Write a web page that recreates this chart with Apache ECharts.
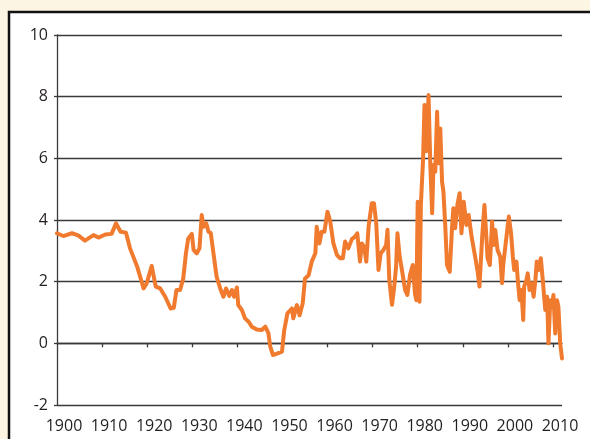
<!DOCTYPE html>
<html>
<head>
<meta charset="utf-8">
<script src="https://cdn.jsdelivr.net/npm/echarts@6/dist/echarts.min.js"></script>
<style>
  html, body { margin: 0; padding: 0; background: #fdf5e3; }
  #chart { width: 590px; height: 439px; }
</style>
</head>
<body>
<div id="chart"></div>
<script>
// years (fractional) and values
const years = [
  1900.0, 1901.4, 1903.3, 1904.7, 1906.2, 1908.1, 1909.2, 1910.7, 1912.1, 1913.1,
  1914.1, 1915.3, 1916.2, 1917.8, 1919.2, 1919.9, 1921.0, 1921.9, 1922.9, 1924.0,
  1925.2, 1925.9, 1926.5, 1927.3, 1928.0, 1928.6, 1929.1, 1929.9, 1930.3, 1931.0,
  1931.6, 1932.1, 1932.5, 1933.1, 1933.6, 1934.1, 1934.7, 1935.4, 1936.2, 1936.9,
  1937.5, 1938.2, 1938.8, 1939.3, 1939.9, 1940.2, 1941.0, 1941.7, 1942.5, 1943.2,
  1944.3, 1945.4, 1946.2, 1946.9, 1947.3, 1947.9, 1948.8, 1949.9, 1950.4, 1951.1,
  1952.1, 1952.4, 1953.2, 1953.8, 1954.5, 1955.0, 1955.8, 1956.5, 1957.3, 1957.6,
  1958.2, 1958.7, 1959.3, 1960.0, 1960.6, 1961.3, 1962.1, 1962.8, 1963.4, 1963.9,
  1964.6, 1965.4, 1966.1, 1966.6, 1967.2, 1967.6, 1968.1, 1968.6, 1969.1, 1969.8,
  1970.3, 1970.8, 1971.3, 1971.8, 1972.4, 1973.0, 1973.3, 1973.7, 1974.3, 1974.8,
  1975.2, 1975.5, 1976.0, 1976.5, 1977.2, 1977.7, 1978.3, 1978.9, 1979.4, 1979.7,
  1980.0, 1980.4, 1980.7, 1981.2, 1981.5, 1981.9, 1982.4, 1982.8, 1983.2, 1983.5,
  1983.9, 1984.3, 1984.6, 1985.0, 1985.4, 1985.7, 1986.1, 1986.5, 1987.1, 1987.6,
  1987.9, 1988.3, 1988.8, 1989.3, 1989.7, 1990.2, 1990.8, 1991.3, 1992.0, 1992.8,
  1993.3, 1993.7, 1994.3, 1994.8, 1995.2, 1995.5, 1996.0, 1996.5, 1996.8, 1997.2,
  1997.7, 1998.3, 1998.7, 1999.0, 1999.6, 2000.2, 2000.7, 2001.1, 2001.4, 2001.9,
  2002.2, 2002.6, 2003.0, 2003.4, 2003.6, 2004.1, 2004.4, 2004.8, 2005.3, 2005.7,
  2006.1, 2006.4, 2006.8, 2007.3, 2007.8, 2008.1, 2008.3, 2008.7, 2009.0, 2009.4,
  2009.8, 2010.1, 2010.5, 2010.9, 2011.2, 2011.6, 2012.0
]
const values = [
  3.57, 3.48, 3.57, 3.50, 3.33, 3.51, 3.43, 3.53, 3.55, 3.89,
  3.62, 3.59, 3.08, 2.48, 1.78, 1.95, 2.51, 1.84, 1.78, 1.51,
  1.13, 1.15, 1.73, 1.73, 2.10, 2.92, 3.40, 3.55, 3.03, 2.92,
  3.08, 4.16, 3.78, 3.89, 3.62, 3.58, 2.92, 2.16, 1.78, 1.51,
  1.78, 1.54, 1.73, 1.51, 1.81, 1.24, 1.08, 0.81, 0.70, 0.54,
  0.45, 0.43, 0.54, 0.32, -0.11, -0.38, -0.33, -0.27, 0.43, 0.97,
  1.13, 0.81, 1.24, 0.91, 1.30, 2.10, 2.21, 2.65, 2.92, 3.78,
  3.24, 3.62, 3.62, 4.27, 3.95, 3.24, 2.86, 2.76, 2.76, 3.30,
  3.08, 3.38, 3.46, 3.57, 2.65, 3.24, 3.13, 2.65, 3.78, 4.54,
  4.54, 3.89, 2.38, 2.92, 3.03, 3.19, 3.68, 2.05, 1.25, 1.84,
  2.49, 3.57, 2.81, 2.38, 1.73, 1.57, 2.22, 2.54, 1.60, 1.40,
  4.59, 1.35, 4.49, 6.00, 7.73, 6.23, 8.05, 5.78, 4.22, 5.78,
  5.57, 7.51, 5.84, 6.97, 5.24, 4.92, 3.84, 2.54, 2.32, 3.73,
  4.38, 3.73, 4.49, 4.87, 3.57, 4.59, 3.84, 4.16, 3.41, 2.76,
  2.32, 1.84, 3.46, 4.49, 3.50, 2.76, 2.54, 3.95, 3.19, 3.68,
  3.03, 2.81, 1.95, 2.59, 3.35, 4.11, 3.57, 2.81, 2.38, 2.65,
  2.05, 1.40, 1.73, 0.76, 1.84, 2.05, 2.27, 1.73, 1.95, 1.51,
  2.05, 2.65, 2.38, 2.76, 1.95, 1.40, 1.08, 1.51, 0.00, 1.40,
  1.19, 1.57, 0.32, 1.40, 1.19, 0.00, -0.49
]
const labelYears = [1900, 1910, 1920, 1930, 1940, 1950, 1960, 1970, 1980, 1990, 2000, 2010]
const tickYears = [1910, 1920, 1930, 1940, 1950, 1960, 1970, 1980, 1990, 2000, 2010]

const chart = echarts.init(document.getElementById('chart'), null, { renderer: 'canvas' })
const textColor = '#231f20'
const lineColor = '#3a3a3a'
const option = {
  backgroundColor: '#fdf5e3',
  animation: false,
  textStyle: { fontFamily: 'Open Sans' },
  graphic: [
    {
      type: 'rect',
      z: -10,
      shape: { x: 9, y: 12, width: 620, height: 480 },
      style: { fill: '#ffffff', stroke: '#111111', lineWidth: 2.5 }
    }
  ],
  grid: {
    left: 57,
    right: 28,
    top: 35,
    bottom: 34,
    containLabel: false,
    outerBoundsMode: 'none'
  },
  xAxis: [
    {
      // axis line with ticks on the zero line
      type: 'value',
      min: 1900,
      max: 2012,
      position: 'bottom',
      splitLine: { show: false },
      axisLine: { show: true, onZero: true, lineStyle: { color: lineColor, width: 1.3 } },
      axisTick: {
        show: true,
        length: 4,
        customValues: tickYears,
        lineStyle: { color: lineColor, width: 1.3 }
      },
      axisLabel: { show: false }
    },
    {
      // year labels along the bottom
      type: 'value',
      min: 1900,
      max: 2012,
      position: 'bottom',
      splitLine: { show: false },
      axisLine: { show: false, onZero: false },
      axisTick: { show: false },
      axisLabel: {
        show: true,
        customValues: labelYears,
        margin: 13,
        color: textColor,
        fontSize: 16,
        fontFamily: 'Open Sans',
        padding: [0, 0, 0, 14],
        formatter: v => String(v)
      }
    }
  ],
  yAxis: {
    type: 'value',
    min: -2,
    max: 10,
    interval: 2,
    axisLine: { show: true, lineStyle: { color: lineColor, width: 1.3 } },
    axisTick: { show: true, length: 3, lineStyle: { color: lineColor, width: 1.3 } },
    splitLine: { show: true, lineStyle: { color: lineColor, width: 1.3 } },
    axisLabel: {
      margin: 9,
      color: textColor,
      fontSize: 16,
      fontFamily: 'Open Sans'
    }
  },
  series: [
    {
      type: 'line',
      xAxisIndex: 0,
      data: years.map((y, i) => [y, values[i]]),
      showSymbol: false,
      smooth: false,
      lineStyle: { color: '#f07a2e', width: 4, join: 'round', cap: 'round' },
      z: 5
    }
  ]
}
chart.setOption(option)
</script>
</body>
</html>
